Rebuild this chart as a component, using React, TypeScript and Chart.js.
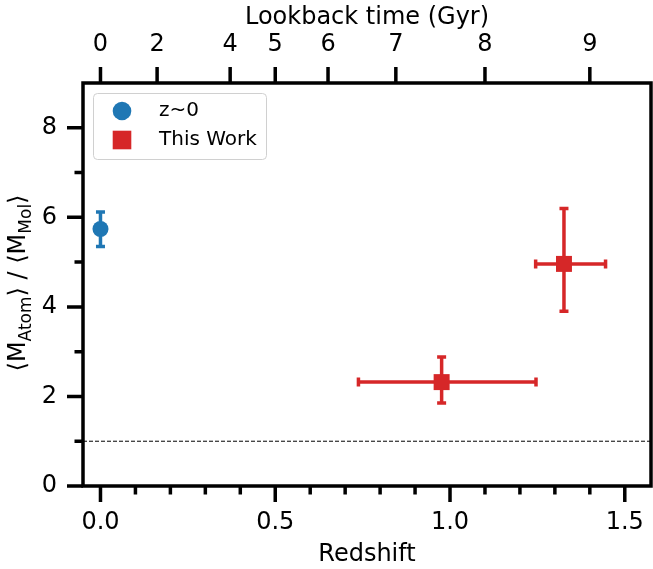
import React, { useEffect, useRef } from 'react';
import { Chart, registerables } from 'chart.js';

Chart.register(...registerables);

// ---- data ----
const localRedshift = [0.0];
const localRatio = [5.74];
const localRatioLow = [5.35];
const localRatioHigh = [6.12];

const workRedshift = [0.976, 1.326];
const workRatio = [2.32, 4.96];
const workRedshiftLow = [0.738, 1.245];
const workRedshiftHigh = [1.246, 1.445];
const workRatioLow = [1.855, 3.9];
const workRatioHigh = [2.88, 6.2];

// ---- axes ----
const xMajorTicks = [0, 0.5, 1.0, 1.5];
const xMinorTicks = [0.1, 0.2, 0.3, 0.4, 0.6, 0.7, 0.8, 0.9, 1.1, 1.2, 1.3, 1.4];
const yMajorTicks = [0, 2, 4, 6, 8];
const yMinorTicks = [1, 3, 5, 7];
const lookbackLabels = ['0', '2', '4', '5', '6', '7', '8', '9'];
const lookbackRedshifts = [0, 0.162, 0.371, 0.5, 0.651, 0.845, 1.1, 1.4];
const unityLevel = 1;

const X_MIN = -0.05;
const X_MAX = 1.575;
const Y_MIN = 0;
const Y_MAX = 9;

const BLUE = '#1f77b4';
const RED = '#d62728';
const FONT = 'DejaVu Sans';

const zeroPad = (s: any) => {
  s.paddingLeft = 0;
  s.paddingRight = 0;
  s.paddingTop = 0;
  s.paddingBottom = 0;
};

const decorPlugin = {
  id: 'decor',
  beforeDatasetsDraw(chart: any) {
    const { ctx, chartArea: a, scales } = chart;
    const xs = scales.x;
    const ys = scales.y;
    ctx.save();
    ctx.beginPath();
    ctx.rect(a.left, a.top, a.right - a.left, a.bottom - a.top);
    ctx.clip();
    // dashed unity line
    ctx.strokeStyle = '#000';
    ctx.lineWidth = 1;
    ctx.setLineDash([4, 2]);
    const yy = ys.getPixelForValue(unityLevel);
    ctx.beginPath();
    ctx.moveTo(a.left, yy);
    ctx.lineTo(a.right, yy);
    ctx.stroke();
    ctx.setLineDash([]);

    const cap = 4.5;
    const vbar = (color: string, xv: number, lo: number, hi: number) => {
      const px = xs.getPixelForValue(xv);
      const p1 = ys.getPixelForValue(lo);
      const p2 = ys.getPixelForValue(hi);
      ctx.strokeStyle = color;
      ctx.lineWidth = 3.5;
      ctx.beginPath();
      ctx.moveTo(px, p1);
      ctx.lineTo(px, p2);
      ctx.moveTo(px - cap, p1);
      ctx.lineTo(px + cap, p1);
      ctx.moveTo(px - cap, p2);
      ctx.lineTo(px + cap, p2);
      ctx.stroke();
    };
    const hbar = (color: string, yv: number, lo: number, hi: number) => {
      const py = ys.getPixelForValue(yv);
      const p1 = xs.getPixelForValue(lo);
      const p2 = xs.getPixelForValue(hi);
      ctx.strokeStyle = color;
      ctx.lineWidth = 3.5;
      ctx.beginPath();
      ctx.moveTo(p1, py);
      ctx.lineTo(p2, py);
      ctx.moveTo(p1, py - cap);
      ctx.lineTo(p1, py + cap);
      ctx.moveTo(p2, py - cap);
      ctx.lineTo(p2, py + cap);
      ctx.stroke();
    };
    localRedshift.forEach((z, i) => vbar(BLUE, z, localRatioLow[i], localRatioHigh[i]));
    workRedshift.forEach((z, i) => {
      hbar(RED, workRatio[i], workRedshiftLow[i], workRedshiftHigh[i]);
      vbar(RED, z, workRatioLow[i], workRatioHigh[i]);
    });
    ctx.restore();
  },
  afterDraw(chart: any) {
    const { ctx, chartArea: a, scales } = chart;
    const xs = scales.x;
    const ys = scales.y;
    const x2 = scales.x2;
    ctx.save();
    // spines
    ctx.strokeStyle = '#000';
    ctx.lineWidth = 3.5;
    ctx.strokeRect(a.left, a.top, a.right - a.left, a.bottom - a.top);
    // ticks
    const major = 16;
    const minor = 8.5;
    ctx.lineWidth = 3.5;
    ctx.beginPath();
    xMajorTicks.forEach((v) => {
      const p = xs.getPixelForValue(v);
      ctx.moveTo(p, a.bottom);
      ctx.lineTo(p, a.bottom + major);
    });
    xMinorTicks.forEach((v) => {
      const p = xs.getPixelForValue(v);
      ctx.moveTo(p, a.bottom);
      ctx.lineTo(p, a.bottom + minor);
    });
    lookbackRedshifts.forEach((v) => {
      const p = x2.getPixelForValue(v);
      ctx.moveTo(p, a.top);
      ctx.lineTo(p, a.top - major);
    });
    yMajorTicks.forEach((v) => {
      const p = ys.getPixelForValue(v);
      ctx.moveTo(a.left, p);
      ctx.lineTo(a.left - major, p);
    });
    yMinorTicks.forEach((v) => {
      const p = ys.getPixelForValue(v);
      ctx.moveTo(a.left, p);
      ctx.lineTo(a.left - minor, p);
    });
    ctx.stroke();

    // axis titles
    ctx.fillStyle = '#000';
    ctx.font = `24px "${FONT}"`;
    ctx.textAlign = 'center';
    ctx.textBaseline = 'alphabetic';
    const cx = (a.left + a.right) / 2;
    ctx.fillText('Redshift', cx, 561);
    ctx.fillText('Lookback time (Gyr)', cx, 24);

    // y title with subscripts
    const parts = [
      { t: '\u27E8M', sub: false },
      { t: 'Atom', sub: true },
      { t: '\u27E9 / \u27E8M', sub: false },
      { t: 'Mol', sub: true },
      { t: '\u27E9', sub: false },
    ];
    const mainFont = `24px "${FONT}"`;
    const subFont = `17px "${FONT}"`;
    let total = 0;
    const widths = parts.map((p) => {
      ctx.font = p.sub ? subFont : mainFont;
      const w = ctx.measureText(p.t).width;
      total += w;
      return w;
    });
    ctx.save();
    ctx.translate(25, 283);
    ctx.rotate(-Math.PI / 2);
    ctx.textAlign = 'left';
    let pos = -total / 2;
    parts.forEach((p, i) => {
      ctx.font = p.sub ? subFont : mainFont;
      ctx.fillText(p.t, pos, p.sub ? 6 : 0);
      pos += widths[i];
    });
    ctx.restore();

    // legend
    const lx = 93, ly = 93, lw = 173, lh = 66;
    ctx.fillStyle = 'rgba(255,255,255,0.85)';
    ctx.strokeStyle = '#d0d0d0';
    ctx.lineWidth = 1;
    ctx.beginPath();
    ctx.roundRect(lx + 0.5, ly + 0.5, lw, lh, 4);
    ctx.fill();
    ctx.stroke();
    ctx.fillStyle = BLUE;
    ctx.beginPath();
    ctx.arc(122, 111, 9.3, 0, Math.PI * 2);
    ctx.fill();
    ctx.fillStyle = RED;
    ctx.fillRect(122 - 9.3, 140 - 9.3, 18.6, 18.6);
    ctx.fillStyle = '#000';
    ctx.font = `20px "${FONT}"`;
    ctx.textAlign = 'left';
    ctx.textBaseline = 'middle';
    ctx.fillText('z~0', 159, 111);
    ctx.fillText('This Work', 159, 140);
    ctx.restore();
  },
};

export default function App() {
  const ref = useRef<HTMLCanvasElement | null>(null);
  useEffect(() => {
    if (!ref.current) return;
    const tickFont = { family: FONT, size: 24 };
    const chart = new Chart(ref.current, {
      type: 'scatter',
      data: {
        datasets: [
          {
            label: 'z~0',
            data: localRedshift.map((z, i) => ({ x: z, y: localRatio[i] })),
            backgroundColor: BLUE,
            borderColor: BLUE,
            borderWidth: 0,
            pointStyle: 'circle',
            pointRadius: 8,
          },
          {
            label: 'This Work',
            data: workRedshift.map((z, i) => ({ x: z, y: workRatio[i] })),
            backgroundColor: RED,
            borderColor: RED,
            borderWidth: 0,
            pointStyle: 'rect',
            pointRadius: 11.3,
          },
        ],
      },
      options: {
        animation: false,
        responsive: false,
        maintainAspectRatio: false,
        events: [],
        layout: { autoPadding: false, padding: { left: 0, right: 2, top: 0, bottom: 0 } },
        plugins: { legend: { display: false }, tooltip: { enabled: false } },
        scales: {
          x: {
            type: 'linear',
            position: 'bottom',
            min: X_MIN,
            max: X_MAX,
            afterBuildTicks: (s: any) => {
              s.ticks = xMajorTicks.map((v) => ({ value: v }));
            },
            afterFit: (s: any) => {
              s.height = 83;
              zeroPad(s);
            },
            grid: { display: false, drawTicks: false },
            border: { display: false },
            ticks: {
              font: tickFont,
              color: '#000',
              padding: 22,
              maxRotation: 0,
              autoSkip: false,
              callback: (v: any) => Number(v).toFixed(1),
            },
          },
          x2: {
            type: 'linear',
            position: 'top',
            min: X_MIN,
            max: X_MAX,
            afterBuildTicks: (s: any) => {
              s.ticks = lookbackRedshifts.map((v) => ({ value: v }));
            },
            afterFit: (s: any) => {
              s.height = 83;
              zeroPad(s);
            },
            grid: { display: false, drawTicks: false },
            border: { display: false },
            ticks: {
              font: tickFont,
              color: '#000',
              padding: 24,
              maxRotation: 0,
              autoSkip: false,
              callback: (_v: any, i: number) => lookbackLabels[i],
            },
          },
          y: {
            type: 'linear',
            position: 'left',
            min: Y_MIN,
            max: Y_MAX,
            afterBuildTicks: (s: any) => {
              s.ticks = yMajorTicks.map((v) => ({ value: v }));
            },
            afterFit: (s: any) => {
              s.width = 83;
              zeroPad(s);
            },
            grid: { display: false, drawTicks: false },
            border: { display: false },
            ticks: {
              font: tickFont,
              color: '#000',
              padding: 26,
              autoSkip: false,
              callback: (v: any) => String(v),
            },
          },
        },
      } as any,
      plugins: [decorPlugin],
    });
    return () => chart.destroy();
  }, []);
  return (
    <div style={{ position: 'absolute', left: 0, top: 0, width: 653, height: 569, background: '#fff' }}>
      <canvas ref={ref} width={653} height={569} style={{ display: 'block' }} />
    </div>
  );
}
